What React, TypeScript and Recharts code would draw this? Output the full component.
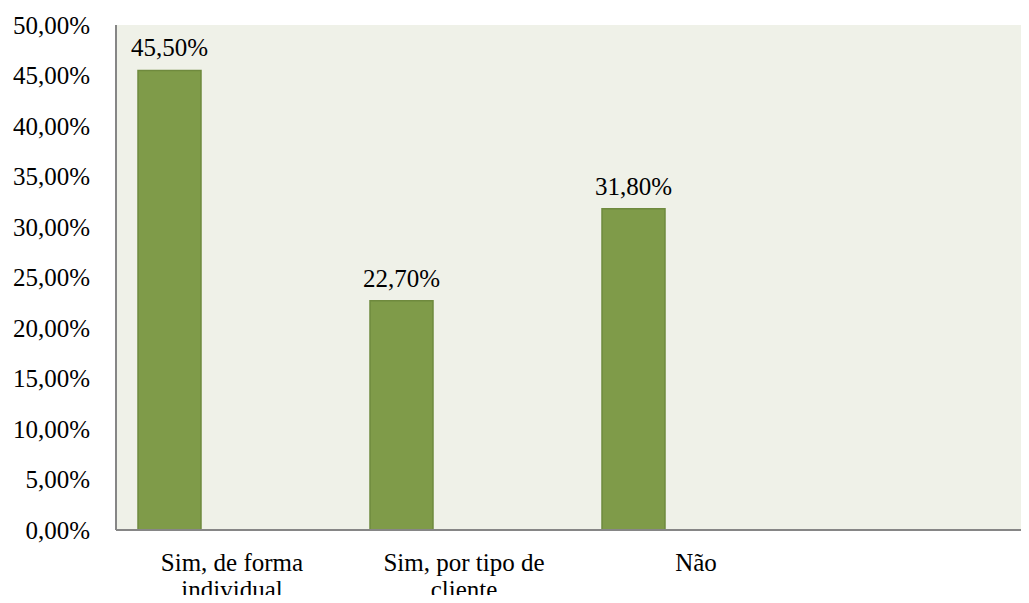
import { BarChart, Bar, XAxis, YAxis, CartesianGrid, LabelList } from "recharts";

const categorias = ["Sim, de forma individual", "Sim, por tipo de cliente", "Não", ""];
const valores: (number | null)[] = [45.5, 22.7, 31.8, null];
const ticksY = [0, 5, 10, 15, 20, 25, 30, 35, 40, 45, 50];

const data = categorias.map((nome, i) => ({ nome, valor: valores[i] }));

const fmt = (v: unknown) =>
  v == null || v === ""
    ? ""
    : Number(v).toLocaleString("pt-BR", { minimumFractionDigits: 2, maximumFractionDigits: 2 }) + "%";

const FONT = '"Times New Roman", "Liberation Serif", Tinos, serif';

function wrap(text: string, max: number) {
  const lines: string[] = [];
  let cur = "";
  for (const w of text.split(" ")) {
    const next = cur ? cur + " " + w : w;
    if (next.length > max && cur) {
      lines.push(cur);
      cur = w;
    } else cur = next;
  }
  if (cur) lines.push(cur);
  return lines;
}

function CategoryTick(props: any) {
  const { x, y, payload } = props;
  const lines = wrap(String(payload.value ?? ""), 16);
  return (
    <text x={x} y={y} textAnchor="middle" fill="#000" fontSize={25} fontFamily={FONT}>
      {lines.map((l, i) => (
        <tspan key={i} x={x} dy={i === 0 ? 33 : 27}>
          {l}
        </tspan>
      ))}
    </text>
  );
}

export default function App() {
  return (
    <div
      style={{
        margin: -8,
        width: 1029,
        height: 603,
        overflow: "hidden",
        background: "#fff",
        fontFamily: FONT,
      }}
    >
      <BarChart
        width={1044}
        height={603}
        data={data}
        margin={{ top: 25, right: 0, bottom: 0, left: 0 }}
        barCategoryGap={22}
        barGap={0}
      >
        <CartesianGrid horizontal={false} vertical={false} fill="#eff1e8" />
        <XAxis
          dataKey="nome"
          height={73}
          tickLine={false}
          axisLine={{ stroke: "#868686", strokeWidth: 2 }}
          tick={<CategoryTick />}
          interval={0}
        />
        <YAxis
          width={116}
          domain={[0, 50]}
          ticks={ticksY}
          tickFormatter={fmt}
          tickLine={false}
          axisLine={{ stroke: "#868686", strokeWidth: 2 }}
          tickMargin={20}
          tick={{ fill: "#000", fontSize: 25, fontFamily: FONT }}
        />
        <Bar dataKey="valor" fill="#7f9b49" stroke="#6f8a3e" strokeWidth={1.5} isAnimationActive={false}>
          <LabelList
            dataKey="valor"
            position="top"
            offset={14}
            formatter={fmt}
            fill="#000"
            fontSize={25}
            fontFamily={FONT}
          />
        </Bar>
        <Bar dataKey="serie2" fill="#c0504d" isAnimationActive={false} />
        <Bar dataKey="serie3" fill="#4f81bd" isAnimationActive={false} />
      </BarChart>
    </div>
  );
}
